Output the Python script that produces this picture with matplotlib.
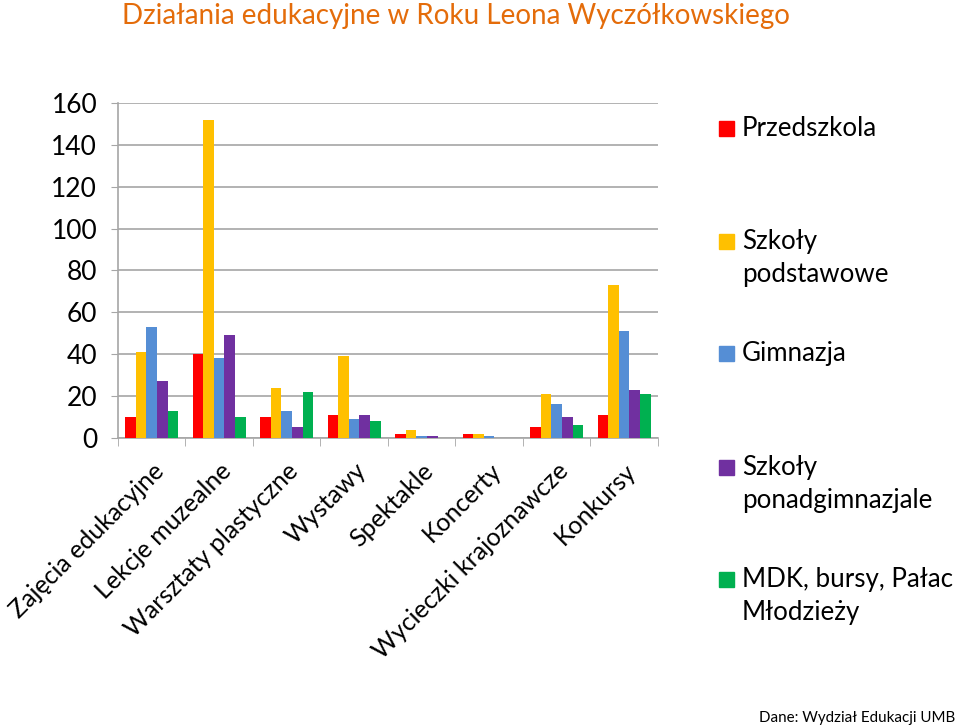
import matplotlib.pyplot as plt
import numpy as np
from matplotlib.patches import Rectangle

plt.rcParams['font.family'] = ['Lato', 'DejaVu Sans']

categories = ['Zajęcia edukacyjne', 'Lekcje muzealne', 'Warsztaty plastyczne', 'Wystawy',
              'Spektakle', 'Koncerty', 'Wycieczki krajoznawcze', 'Konkursy']
series = ['Przedszkola', 'Szkoły\npodstawowe', 'Gimnazja', 'Szkoły\nponadgimnazjale',
          'MDK, bursy, Pałac\nMłodzieży']
przedszkola = [10, 40, 10, 11, 2, 2, 5, 11]
podstawowe = [41, 152, 24, 39, 4, 2, 21, 73]
gimnazja = [53, 38, 13, 9, 1, 1, 16, 51]
ponadgimn = [27, 49, 5, 11, 1, 0, 10, 23]
mdk = [13, 10, 22, 8, 0, 0, 6, 21]
values = [przedszkola, podstawowe, gimnazja, ponadgimn, mdk]
colors = ['#FF0000', '#FFC000', '#558ED5', '#7030A0', '#00B050']

fig = plt.figure(figsize=(9.6, 7.28), dpi=100)
ax = fig.add_axes([0.1229, 0.3984, 0.5625, 0.4601])

x = np.arange(len(categories))
w = 0.156
for i, (vals, c) in enumerate(zip(values, colors)):
    ax.bar(x + (i - 2) * w, vals, w, color=c, zorder=3)

ax.set_xlim(-0.5, len(categories) - 0.5)
ax.set_ylim(0, 160)
ax.set_yticks(range(0, 161, 20))
ax.yaxis.grid(True, color='#A6A6A6', linewidth=1.2, zorder=0)
ax.set_xticks(x)
ax.set_xticklabels(categories, rotation=45, ha='right', va='top', rotation_mode='anchor', fontsize=18)
ax.set_xticks(np.arange(-0.5, len(categories)), minor=True)
ax.tick_params(axis='x', which='major', length=0, pad=15)
ax.tick_params(axis='x', which='minor', length=6, color='#A6A6A6', direction='out')
ax.tick_params(axis='y', length=5, color='#A6A6A6', labelsize=19, pad=10)
for s in ['top', 'right']:
    ax.spines[s].set_visible(False)
for s in ['left', 'bottom']:
    ax.spines[s].set_color('#A6A6A6')
    ax.spines[s].set_linewidth(1.2)

fig.text(0.127, 1 - 16 / 728, 'Działania edukacyjne w Roku Leona Wyczółkowskiego', color='#E46C0A',
         fontsize=20, va='center', ha='left')

# legend
leg_y = [128, 241, 353, 467, 579]
for lab, c, yy in zip(series, colors, leg_y):
    fy = 1 - yy / 728
    fig.patches.append(Rectangle((719 / 960, fy - 8 / 728), 15 / 960, 15 / 728,
                                 transform=fig.transFigure, color=c))
    fig.text(742 / 960, fy + 12 / 728, lab, fontsize=18.6, va='top', ha='left', linespacing=1.42)

fig.text(0.995, 0.004, 'Dane: Wydział Edukacji UMB', fontsize=10.9, ha='right', va='bottom')

fig.savefig('out.png', dpi=100)
